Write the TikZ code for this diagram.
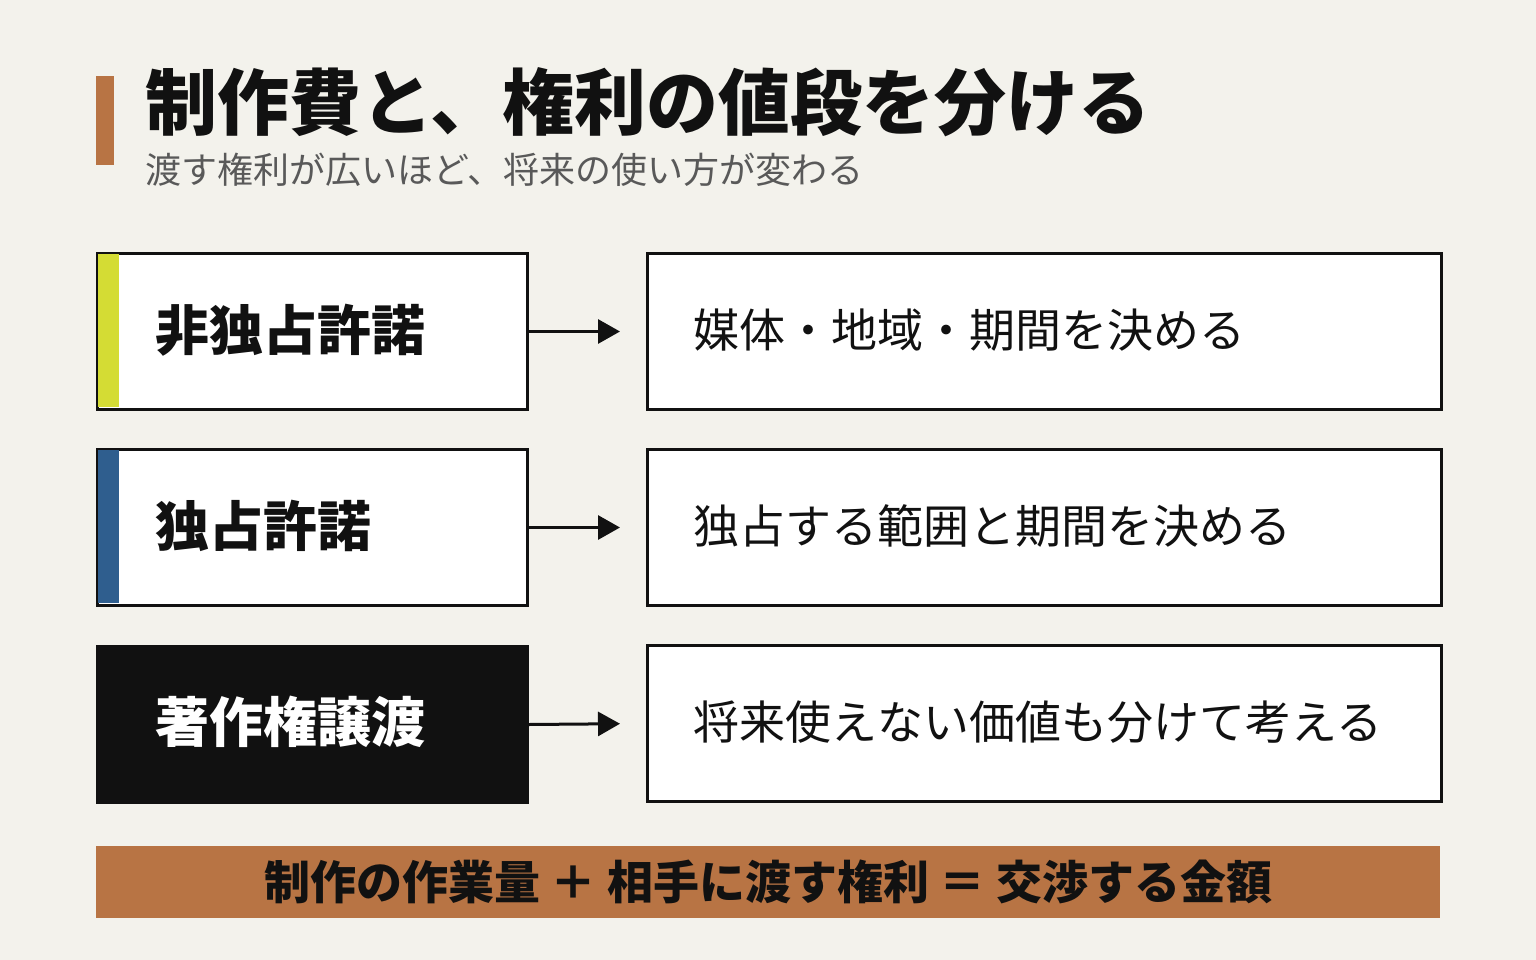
\documentclass[tikz,border=0pt]{standalone}
\usepackage{fontspec}
\newfontfamily\cjk{Noto Sans CJK JP}
\usetikzlibrary{positioning,arrows.meta}
\definecolor{bg}{HTML}{F3F2EC}
\definecolor{accent}{HTML}{B87444}
\definecolor{lime}{HTML}{D4DC34}
\definecolor{navy}{HTML}{2F5E8E}
\definecolor{ink}{HTML}{111111}
\tikzset{
    x=1pt, y=-1pt,
    lbox/.style = {
        draw=ink,
        fill=white,
        line width=3pt,
        minimum width=430pt,
        minimum height=156pt,
        anchor=north west
    },
    rbox/.style = {
        draw=ink,
        fill=white,
        line width=3pt,
        minimum width=794pt,
        minimum height=156pt,
        anchor=north west
    },
    ltext/.style = {
        anchor=west,
        font=\cjk\bfseries\fontsize{54}{60}\selectfont
    },
    rtext/.style = {
        anchor=west,
        font=\cjk\fontsize{46}{52}\selectfont,
        text=ink
    },
    >={Triangle[length=22pt,width=24pt]},
}
\begin{document}
\begin{tikzpicture}
    \fill[bg] (0,0) rectangle (1536,960);
    \useasboundingbox (0,0) rectangle (1536,960);

    % heading
    \fill[accent] (96,76) rectangle (114,165);
    \node[anchor=west, font=\cjk\bfseries\fontsize{72}{80}\selectfont, text=ink] (title) at (142,102) {制作費と、権利の値段を分ける};
    \node[anchor=west, font=\cjk\fontsize{36}{42}\selectfont, text=black!65] (sub) at (142,170) {渡す権利が広いほど、将来の使い方が変わる};

    % rows
    \node[lbox] (nonex) at (96,252) {};
    \fill[lime] (97.5,253.5) rectangle (119,406.5);
    \node[ltext, text=ink] (nonexlbl) at (152,330) {非独占許諾};
    \node[rbox] (nonexr) at (646,252) {};
    \node[rtext] (nonexrlbl) at (690,330) {媒体・地域・期間を決める};

    \node[lbox] (excl) at (96,448) {};
    \fill[navy] (97.5,449.5) rectangle (119,602.5);
    \node[ltext, text=ink] (excllbl) at (152,526) {独占許諾};
    \node[rbox] (exclr) at (646,448) {};
    \node[rtext] (exclrlbl) at (690,526) {独占する範囲と期間を決める};

    \node[lbox, fill=ink] (assign) at (96,645) {};
    \node[ltext, text=white] (assignlbl) at (152,722) {著作権譲渡};
    \node[rbox] (assignr) at (646,644) {};
    \node[rtext] (assignrlbl) at (690,722) {将来使えない価値も分けて考える};

    \foreach \a/\b in {nonex/nonexr, excl/exclr, assign/assignr}
        \draw[->, line width=3pt, ink, shorten >=26pt] (\a.east) -- (\b.west);

    % summary
    \node[fill=accent, minimum width=1344pt, minimum height=72pt, anchor=north west, inner sep=0pt] (sum) at (96,846) {};
    \node[font=\cjk\bfseries\fontsize{46}{52}\selectfont, text=ink] (sumlbl) at (sum.center) {制作の作業量 ＋ 相手に渡す権利 ＝ 交渉する金額};
\end{tikzpicture}
\end{document}
